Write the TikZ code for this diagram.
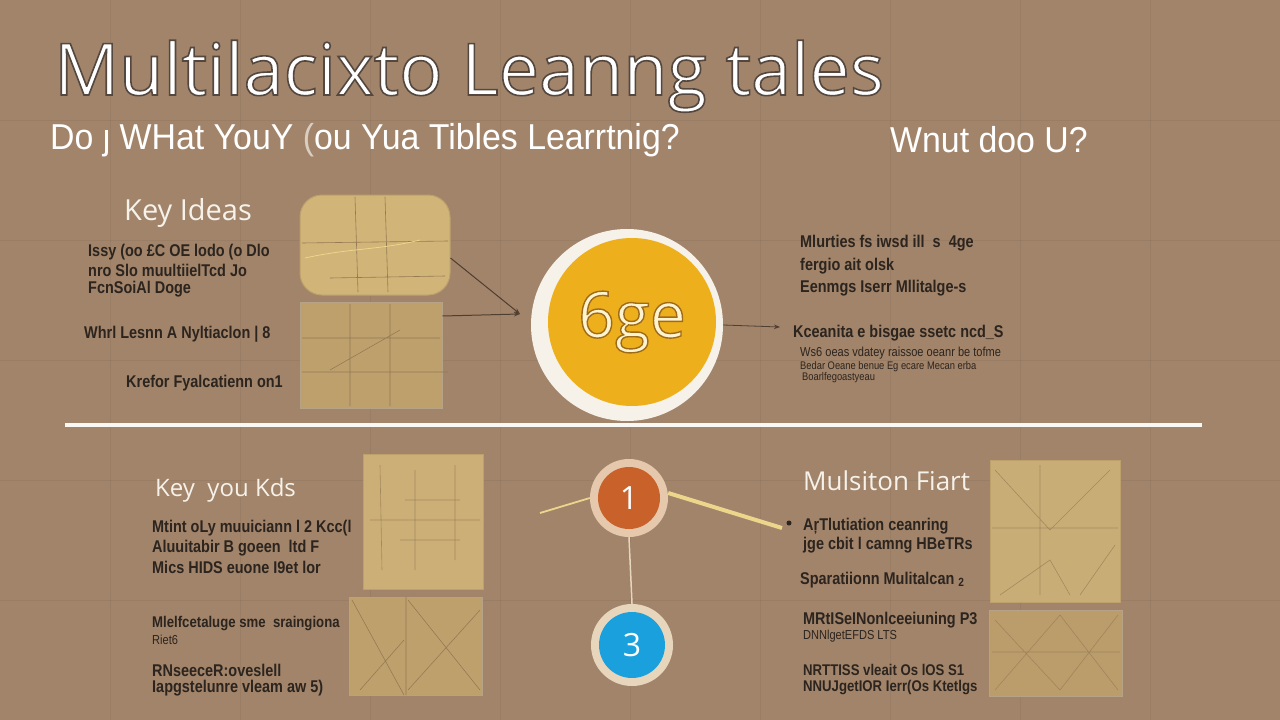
\documentclass[tikz,border=0pt]{standalone}
\usetikzlibrary{arrows.meta}
\usepackage{fontspec}
\setmainfont{Liberation Sans}
\newfontfamily\titlefont{Open Sans}
\newfontfamily\narrowfont[FakeStretch=0.85]{Liberation Sans}
\newfontfamily\subfont[FakeStretch=0.94]{Liberation Sans}
\newcommand{\outlinetext}[3]{\special{pdf:literal direct 2 Tr #1 w #2 RG}#3\special{pdf:literal direct 0 Tr}}
\definecolor{bg}{RGB}{161,132,106}
\definecolor{darktext}{RGB}{44,36,30}
\definecolor{paneltan}{RGB}{208,180,120}
\definecolor{paneldark}{RGB}{190,160,108}
\definecolor{panelline}{RGB}{150,122,84}
\definecolor{ringwhite}{RGB}{246,242,234}
\definecolor{goldfill}{RGB}{238,175,28}
\definecolor{cream}{RGB}{255,243,208}
\definecolor{peach}{RGB}{230,200,172}
\definecolor{rust}{RGB}{200,97,42}
\definecolor{beige}{RGB}{232,214,188}
\definecolor{skyblue}{RGB}{26,160,220}
\definecolor{connector}{RGB}{80,62,48}
\definecolor{yellowbar}{RGB}{236,214,140}
\definecolor{sepline}{RGB}{250,248,244}
\tikzset{
  darktxt/.style={anchor=west, text=darktext, font=\narrowfont\bfseries\fontsize{17}{19}\selectfont, inner sep=0pt},
  boldtxt/.style={darktxt},
  tighttxt/.style={darktxt, font=\narrowfont\bfseries\fontsize{15.5}{17}\selectfont},
  smalltxt/.style={darktxt, font=\narrowfont\fontsize{13}{14}\selectfont},
  headtxt/.style={anchor=west, text=ringwhite, font=\titlefont\fontsize{24}{26}\selectfont, inner sep=0pt},
  panelbox/.style={fill=paneltan, draw=paneldark, line width=1pt},
  paneldk/.style={fill=paneldark, draw=panelline!70, line width=1pt},
  sketch/.style={draw=panelline, line width=0.6pt},
  conn/.style={draw=connector, line width=1pt},
}
\begin{document}
\begin{tikzpicture}[x=1pt, y=-1pt]
\useasboundingbox (0,0) rectangle (1280,720);
\fill[bg] (0,0) rectangle (1280,720);
% faint texture grid
\foreach \gx in {110,240,370,500,630,760,890,1020,1150}
  \draw[black!40!bg, opacity=0.12, line width=0.4pt] (\gx,0) -- (\gx,720);
\foreach \gy in {120,240,360,480,600}
  \draw[black!40!bg, opacity=0.12, line width=0.4pt] (0,\gy) -- (1280,\gy);

% title
\node (title) [anchor=base west, inner sep=0pt, text=white, font=\titlefont\fontsize{72}{76}\selectfont]
  at (54,95) {\outlinetext{1.6}{0.33 0.28 0.25}{Multilacixto Leanng tales}};
\node (sub1) [anchor=west, inner sep=0pt, text=white, font=\subfont\fontsize{36}{38}\selectfont]
  at (50,140) {Do ȷ WHat YouY \textcolor{white!60!bg}{(}ou Yua Tibles Learrtnig?};
\node (sub2) [anchor=west, inner sep=0pt, text=white, font=\subfont\fontsize{36}{38}\selectfont]
  at (890,140) {Wnut doo U?};

% upper left text
\node (keyideas) [headtxt, font=\titlefont\fontsize{29}{31}\selectfont] at (124,213) {Key Ideas};
\node (ul1) [darktxt] at (88,252) {Issy (oo £C OE lodo (o Dlo};
\node (ul2) [darktxt] at (88,270) {nro Slo muultiielTcd Jo};
\node (ul3) [darktxt] at (88,289) {FcnSoiAl Doge};
\node (ul4) [boldtxt] at (84,334) {Whrl Lesnn A Nyltiaclon | 8};
\node (ul5) [boldtxt] at (126,383) {Krefor Fyalcatienn on1};

% upper panels
\node (panelA) [panelbox, rounded corners=22pt, minimum width=150pt, minimum height=100pt, inner sep=0pt] at (375,245) {};
\draw[sketch] (355,197) -- (358,292) (385,197) -- (388,292) (302,243) -- (448,241) (330,278) -- (445,276);
\draw[yellowbar, line width=0.8pt] (305,258) .. controls (350,248) and (380,250) .. (420,240);
\node (panelB) [paneldk, minimum width=142pt, minimum height=106pt, inner sep=0pt] at (371,355) {};
\draw[sketch] (350,304) -- (350,406) (390,304) -- (390,406) (302,338) -- (440,338) (302,372) -- (448,372) (330,370) -- (400,330);

\coordinate (tipA) at (520,314);
\draw[conn, -{Stealth[length=6pt]}] (panelA.east) ++(0,13) coordinate (srcA) -- (tipA);
\draw[conn, -{Stealth[length=6pt]}] (panelB.east) ++(0,-39) coordinate (srcB) -- (tipA);

% big circle
\node (bigring) [circle, fill=ringwhite, minimum size=192pt, inner sep=0pt] at (627,325) {};
\node (bigcirc) [circle, fill=goldfill, minimum size=168pt, inner sep=0pt, text=cream,
  font=\titlefont\fontsize{64}{66}\selectfont] at (632,322) {\outlinetext{1.4}{0.62 0.42 0.10}{6ge}};
\coordinate (arrR) at (780,327);
\draw[conn, line width=0.8pt, -{Stealth[length=6pt]}] (bigring.east) -- (arrR);

% upper right text
\node (ur1) [darktxt] at (800,243) {Mlurties fs iwsd ill \ s \ 4ge};
\node (ur2) [darktxt] at (800,266) {fergio ait olsk};
\node (ur3) [darktxt] at (800,288) {Eenmgs Iserr Mllitalge-s};
\node (ur4) [boldtxt] at (793,333) {Kceanita e bisgae ssetc ncd\_S};
\node (ur5) [smalltxt] at (800,353) {Ws6 oeas vdatey raissoe oeanr be tofme};
\node (ur6) [smalltxt, font=\narrowfont\fontsize{11}{12}\selectfont] at (800,367) {Bedar Oeane benue Eg ecare Mecan erba};
\node (ur7) [smalltxt, font=\narrowfont\fontsize{11}{12}\selectfont] at (802,378) {Boarlfegoastyeau};

% separator
\draw[sepline, line width=4pt] (65,425) -- (1202,425);

% lower left
\node (keykids) [headtxt] at (155,490) {Key \ you Kds};
\node (ll1) [boldtxt] at (152,528) {Mtint oLy muuiciann l 2 Kcc(l};
\node (ll2) [darktxt] at (152,548) {Aluuitabir B goeen \ ltd F};
\node (ll3) [darktxt] at (152,567) {Mics HIDS euone I9et lor};
\node (ll4) [tighttxt] at (152,624) {Mlelfcetaluge sme \ sraingiona};
\node (ll5) [smalltxt] at (152,640) {Riet6};
\node (ll6) [darktxt] at (152,670) {RNseeceR:oveslell};
\node (ll7) [darktxt] at (152,688) {Iapgstelunre vleam aw 5)};

% lower left panels
\node (panelC) [panelbox, fill=paneltan!90!bg, minimum width=120pt, minimum height=135pt, inner sep=0pt] at (423,522) {};
\draw[sketch, opacity=0.7] (380,465) -- (382,570) (415,470) -- (415,570) (455,465) -- (455,560) (370,520) -- (480,520) (405,500) -- (460,500) (400,540) -- (460,540);
\node (panelD) [paneldk, minimum width=133pt, minimum height=98pt, inner sep=0pt] at (416,646) {};
\draw[sketch] (406,597) -- (406,695) (352,600) -- (404,695) (360,690) -- (404,640) (408,600) -- (480,690) (408,690) -- (480,610);

% lower circles
\node (c1ring) [circle, fill=peach, minimum size=78pt, inner sep=0pt] at (629,498) {};
\node (c1) [circle, fill=rust, minimum size=62pt, inner sep=0pt, text=white, font=\titlefont\fontsize{32}{34}\selectfont] at (629,498) {1};
\node (c3ring) [circle, fill=beige, minimum size=82pt, inner sep=0pt] at (632,645) {};
\node (c3) [circle, fill=skyblue, minimum size=66pt, inner sep=0pt, text=white, font=\titlefont\fontsize{32}{34}\selectfont] at (632,645) {3};
\draw[beige, line width=1.5pt] (c1ring.south) -- (c3ring.north);
\coordinate (leftend) at (540,513);
\draw[yellowbar, line width=1.8pt] (leftend) -- (c1ring.west);
\coordinate (rightend) at (782,528);
\draw[yellowbar, line width=4pt] (c1ring.east) ++(0,-5) coordinate (c1r) -- (rightend);
\node (dot) [circle, fill=darktext, minimum size=5pt, inner sep=0pt] at (789,523) {};

% lower right text
\node (fiart) [headtxt, font=\titlefont\fontsize{26}{28}\selectfont] at (803,481) {Mulsiton Fiart};
\node (lr1) [boldtxt] at (803,526) {AŗTlutiation ceanring};
\node (lr2) [darktxt] at (803,545) {jge cbit l camng HBeTRs};
\node (lr3) [boldtxt] at (800,580) {Sparatiionn Mulitalcan \textsubscript{2}};
\node (lr4) [darktxt] at (803,620) {MRtISeINonlceeiuning P3};
\node (lr5) [smalltxt] at (803,636) {DNNlgetEFDS LTS};
\node (lr6) [tighttxt] at (803,670) {NRTTISS vleait Os lOS S1};
\node (lr7) [tighttxt] at (803,688) {NNUJgetIOR Ierr(Os Ktetlgs};

% lower right panels
\node (panelE) [panelbox, fill=paneltan!85!bg, minimum width=130pt, minimum height=142pt, inner sep=0pt] at (1055,531) {};
\draw[sketch, opacity=0.7] (995,470) -- (1050,530) -- (1110,470) (1040,465) -- (1040,595) (992,528) -- (1118,528) (1000,595) -- (1050,560) -- (1070,595) (1080,595) -- (1115,545);
\node (panelF) [paneldk, fill=paneldark!90!bg, minimum width=133pt, minimum height=86pt, inner sep=0pt] at (1056,653) {};
\draw[sketch, opacity=0.7] (995,690) -- (1060,615) -- (1118,690) (995,620) -- (1060,690) -- (1118,615) (992,652) -- (1120,652);
\end{tikzpicture}
\end{document}
